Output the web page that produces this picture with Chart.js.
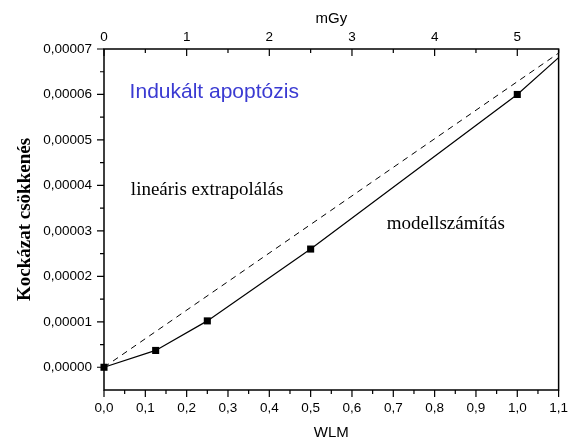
<!DOCTYPE html>
<html>
<head>
<meta charset="utf-8">
<script src="https://cdn.jsdelivr.net/npm/chart.js@4"></script>
<style>
  html, body { margin: 0; padding: 0; background: #fff; }
  #wrap { width: 578px; height: 443px; }
</style>
</head>
<body>
<div id="wrap"><canvas id="c"></canvas></div>
<script>
// data
let wlm = [0, 0.125, 0.25, 0.5, 1.0, 1.1];
let modelValues = [0, 0.0000037, 0.0000102, 0.000026, 0.00006, 0.0000681];
let markerSizes = [5, 5, 5, 5, 5, 0];
let linWlm = [0, 1.1];
let linValues = [0, 0.0000691];
let wlmTicks = [0, 0.1, 0.2, 0.3, 0.4, 0.5, 0.6, 0.7, 0.8, 0.9, 1.0, 1.1];
let mgyTicks = [0, 1, 2, 3, 4, 5];
let yTicks = [0, 0.00001, 0.00002, 0.00003, 0.00004, 0.00005, 0.00006, 0.00007];

let notes = [
  { text: 'Indukált apoptózis', x: 0.062, y: 0.0000604, font: '21px "Liberation Sans", Arial, sans-serif', color: '#3a3ad2' },
  { text: 'lineáris extrapolálás', x: 0.065, y: 0.000039, font: '19px "Liberation Serif", "Times New Roman", serif', color: '#000' },
  { text: 'modellszámítás', x: 0.684, y: 0.0000315, font: '19px "Liberation Serif", "Times New Roman", serif', color: '#000' }
];

let sans = '"Liberation Sans", Arial, sans-serif';

// frame, major + minor ticks, free text
let framePlugin = {
  id: 'frame',
  afterDraw(chart) {
    let ctx = chart.ctx;
    let a = chart.chartArea;
    let x = chart.scales.x, y = chart.scales.y, x2 = chart.scales.x2;
    ctx.save();
    ctx.strokeStyle = '#000';
    ctx.lineWidth = 1.5;
    ctx.strokeRect(a.left, a.top, a.right - a.left, a.bottom - a.top);

    ctx.lineWidth = 1.2;
    ctx.beginPath();
    // bottom: outward
    for (let i = 0; i <= 22; i++) {
      let px = x.getPixelForValue(i * 0.05);
      let len = i % 2 === 0 ? 7 : 4;
      ctx.moveTo(px, a.bottom); ctx.lineTo(px, a.bottom + len);
    }
    // left: outward
    for (let i = 0; i <= 14; i++) {
      let py = y.getPixelForValue(i * 0.000005);
      let len = i % 2 === 0 ? 7 : 4;
      ctx.moveTo(a.left, py); ctx.lineTo(a.left - len, py);
    }
    // top: inward
    for (let i = 0; i <= 11; i++) {
      let px = x2.getPixelForValue(i * 0.5);
      let len = i % 2 === 0 ? 7 : 4;
      ctx.moveTo(px, a.top); ctx.lineTo(px, a.top + len);
    }
    ctx.stroke();

    notes.forEach(n => {
      ctx.font = n.font;
      ctx.fillStyle = n.color;
      ctx.textAlign = 'left';
      ctx.textBaseline = 'middle';
      ctx.fillText(n.text, x.getPixelForValue(n.x), y.getPixelForValue(n.y));
    });
    ctx.restore();
  }
};

let comma = (v, d) => v.toFixed(d).replace('.', ',');

new Chart(document.getElementById('c'), {
  type: 'scatter',
  data: {
    datasets: [
      {
        data: wlm.map((v, i) => ({ x: v, y: modelValues[i] })),
        showLine: true,
        borderColor: '#000',
        backgroundColor: '#000',
        borderWidth: 1.2,
        pointStyle: 'rect',
        pointRadius: markerSizes,
        pointBorderWidth: 0,
        clip: false,
        order: 0
      },
      {
        data: linWlm.map((v, i) => ({ x: v, y: linValues[i] })),
        showLine: true,
        borderColor: '#000',
        borderWidth: 1,
        borderDash: [6, 5],
        pointRadius: 0,
        order: 1
      }
    ]
  },
  options: {
    responsive: true,
    maintainAspectRatio: false,
    animation: false,
    events: [],
    layout: { padding: { left: 0, right: 14, top: 0, bottom: 0 } },
    plugins: { legend: { display: false }, tooltip: { enabled: false } },
    scales: {
      x: {
        type: 'linear',
        position: 'bottom',
        min: 0,
        max: 1.1,
        afterFit: s => { s.height = 53; },
        afterBuildTicks: s => { s.ticks = wlmTicks.map(v => ({ value: v })); },
        grid: { display: false, tickLength: 0 },
        border: { display: false },
        ticks: {
          padding: 10,
          color: '#000',
          font: { family: sans, size: 13.5 },
          callback: v => comma(v, 1)
        },
        title: { display: true, text: 'WLM', color: '#000', font: { family: sans, size: 15 }, padding: { top: 2, bottom: 1 } }
      },
      x2: {
        type: 'linear',
        position: 'top',
        min: 0,
        max: 5.5,
        afterFit: s => { s.height = 49; },
        afterBuildTicks: s => { s.ticks = mgyTicks.map(v => ({ value: v })); },
        grid: { display: false, tickLength: 0 },
        border: { display: false },
        ticks: {
          padding: 4,
          color: '#000',
          font: { family: sans, size: 13.5 },
          callback: v => String(v)
        },
        title: { display: true, text: 'mGy', color: '#000', font: { family: sans, size: 15 }, padding: { top: 10, bottom: 0 } }
      },
      y: {
        type: 'linear',
        min: -0.000005,
        max: 0.00007,
        afterFit: s => { s.width = 104; },
        afterBuildTicks: s => { s.ticks = yTicks.map(v => ({ value: v })); },
        grid: { display: false, tickLength: 0 },
        border: { display: false },
        ticks: {
          padding: 12,
          color: '#000',
          font: { family: sans, size: 13.5 },
          callback: v => comma(v, 5)
        },
        title: {
          display: true,
          text: 'Kockázat csökkenés',
          color: '#000',
          font: { family: '"Liberation Serif", "Times New Roman", serif', size: 19, weight: 'bold' },
          padding: { top: 14, bottom: 0 }
        }
      }
    }
  },
  plugins: [framePlugin]
});
</script>
</body>
</html>
